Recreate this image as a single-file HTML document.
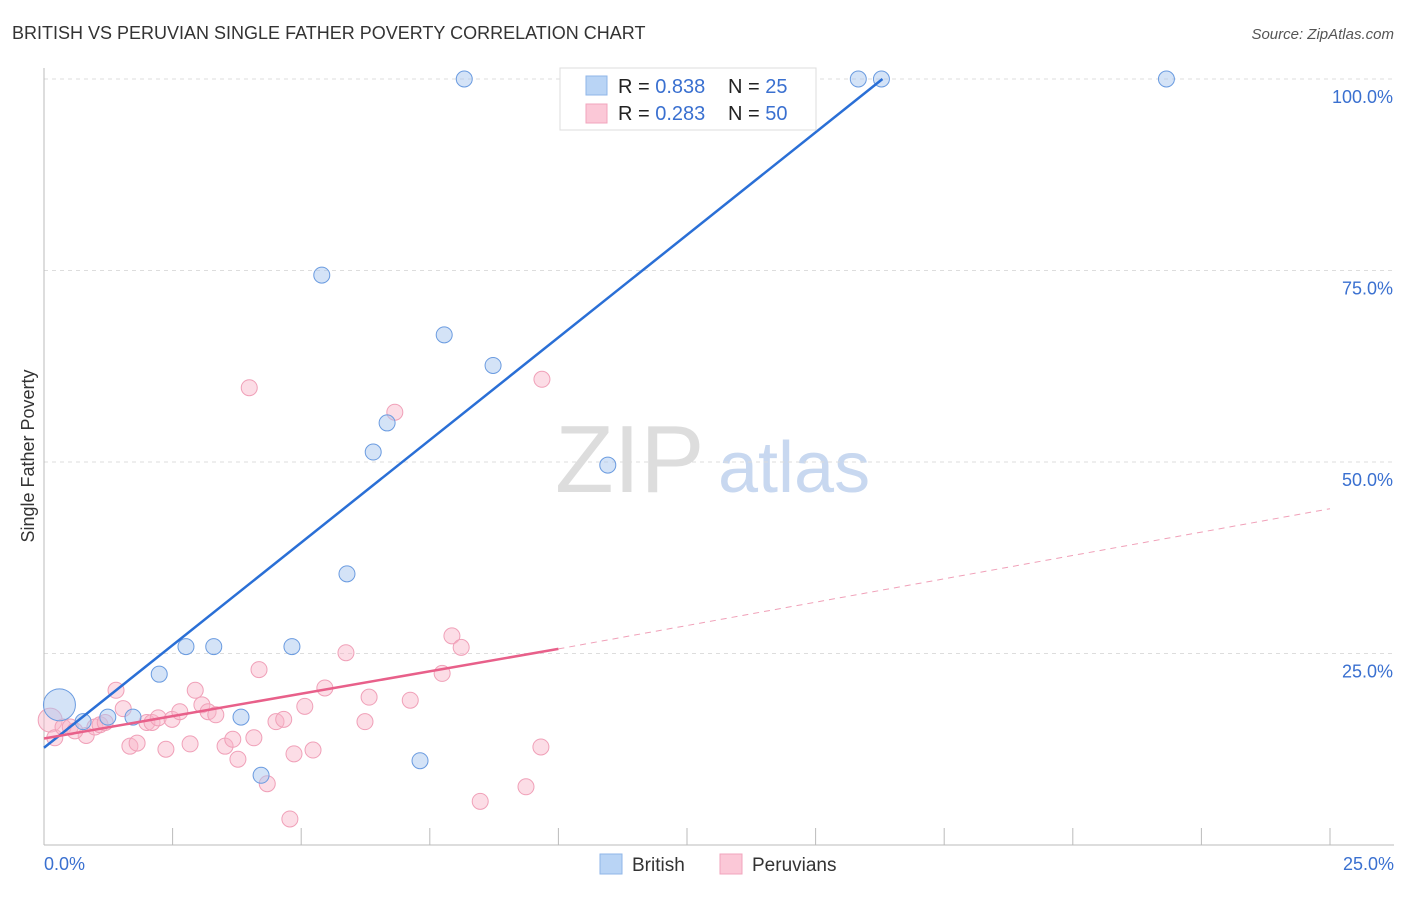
<!DOCTYPE html>
<html><head><meta charset="utf-8"><style>
body{margin:0;background:#fff;font-family:"Liberation Sans",sans-serif}
svg text{font-family:"Liberation Sans",sans-serif}
</style></head><body>
<svg id="c" width="1406" height="892">
<text x="12" y="39" font-size="18" fill="#333">BRITISH VS PERUVIAN SINGLE FATHER POVERTY CORRELATION CHART</text>
<text x="1394" y="39" font-size="15" fill="#555" font-style="italic" text-anchor="end">Source: ZipAtlas.com</text>
<text x="34" y="456" font-size="18" fill="#333" text-anchor="middle" transform="rotate(-90 34 456)">Single Father Poverty</text>
<text x="555" y="492" font-size="96" fill="#ddd" font-family="Liberation Serif">ZIP</text>
<text x="718" y="492" font-size="72" fill="#c8d8f0">atlas</text>
<g id="grid"></g><g id="pts"></g><g id="lines"></g>
<g>
<rect x="560" y="68" width="256" height="62" fill="#fff" stroke="#ddd"/>
<rect x="586" y="76" width="21" height="19" fill="#b9d4f5" stroke="#8fb6e8"/>
<rect x="586" y="104" width="21" height="19" fill="#fbc8d7" stroke="#f2a4bc"/>
<text x="618" y="93" font-size="20" fill="#222">R = <tspan fill="#3a70d0">0.838</tspan></text>
<text x="728" y="93" font-size="20" fill="#222">N = <tspan fill="#3a70d0"> 25</tspan></text>
<text x="618" y="120" font-size="20" fill="#222">R = <tspan fill="#3a70d0">0.283</tspan></text>
<text x="728" y="120" font-size="20" fill="#222">N = <tspan fill="#3a70d0">50</tspan></text>
</g>
<g>
<rect x="600" y="854" width="22" height="20" fill="#b9d4f5" stroke="#8fb6e8"/>
<text x="632" y="871" font-size="19" fill="#333">British</text>
<rect x="720" y="854" width="22" height="20" fill="#fbc8d7" stroke="#f2a4bc"/>
<text x="752" y="871" font-size="19" fill="#333">Peruvians</text>
</g>
</svg>
<script>
const yTicks=[25,50,75,100];
const yTickLabels=["25.0%","50.0%","75.0%","100.0%"];
const britishX=[0.3,0.76,1.24,1.73,2.24,2.76,3.3,3.83,4.22,4.82,5.4,5.89,6.4,6.67,7.31,7.78,8.17,8.73,10.25,10.96,13.36,14.33,15.83,16.28,21.82];
const britishY=[18.3,16.1,16.7,16.7,22.3,25.9,25.9,16.7,9.1,25.9,74.4,35.4,51.3,55.1,11.0,66.6,100,62.6,100,49.6,100,100,100,100,100];
const peruX=[0.12,0.21,0.37,0.51,0.82,0.99,1.09,1.4,1.54,1.67,1.81,2.0,2.1,2.22,2.37,2.49,2.64,2.84,2.94,3.07,3.19,3.34,3.52,3.67,3.77,3.99,4.08,4.18,4.34,4.51,4.66,4.78,4.86,5.07,5.23,5.46,5.87,6.24,6.32,6.82,7.12,7.74,7.93,8.11,8.48,9.37,9.66,9.68,1.19,0.6];
const peruY=[16.3,14.0,15.4,15.4,14.3,15.4,15.7,20.2,17.8,12.9,13.3,16.0,16.0,16.6,12.5,16.4,17.4,13.2,20.2,18.3,17.4,17.0,12.9,13.8,11.2,59.7,14.0,22.9,8.0,16.1,16.4,3.4,11.9,18.1,12.4,20.5,25.1,16.1,19.3,56.5,18.9,22.4,27.3,25.8,5.7,7.6,12.8,60.8,16.0,14.9];
const britishFit=[0,12.7,16.3,100];
const peruFit=[0,13.9,10,25.6,25,43.9];
const X=v=>44+v/25*1286, Y=v=>845-v/100*766;
const NS='http://www.w3.org/2000/svg';
function mk(t,a,p){const e=document.createElementNS(NS,t);for(const k in a)e.setAttribute(k,a[k]);p.appendChild(e);return e;}
const g=document.getElementById('grid');
yTicks.forEach((t,i)=>{
 const l=mk('line',{x1:44,x2:1394,y1:Y(t),y2:Y(t),stroke:'#ddd','stroke-dasharray':'4,4'},g);
 
 
 const tx=mk('text',{x:1393,y:Y(t)+24,'font-size':18,fill:'#3a70d0','text-anchor':'end'},g);tx.textContent=yTickLabels[i];
 
 
});
mk('line',{x1:44,x2:1394,y1:79,y2:79,stroke:'#ddd','stroke-dasharray':'4,4'},g);
mk('line',{x1:44,x2:44,y1:68,y2:845,stroke:'#bbb'},g);
mk('line',{x1:44,x2:1394,y1:845,y2:845,stroke:'#bbb'},g);
for(let i=1;i<=10;i++){mk('line',{x1:X(i*2.5),x2:X(i*2.5),y1:828,y2:845,stroke:'#bbb'},g);}
const x0=mk('text',{x:44,y:870,'font-size':18,fill:'#3a70d0'},g);x0.textContent='0.0%';


const x1=mk('text',{x:1394,y:870,'font-size':18,fill:'#3a70d0','text-anchor':'end'},g);x1.textContent='25.0%';


const p=document.getElementById('pts');
peruX.forEach((v,i)=>{const c=mk('circle',{cx:X(v),cy:Y(peruY[i]),r:i==0?12:8,fill:'rgba(248,180,200,0.45)',stroke:'#f0a0b8','stroke-width':1},p);
 
 });
britishX.forEach((v,i)=>{const c=mk('circle',{cx:X(v),cy:Y(britishY[i]),r:i==0?16:8,fill:'rgba(170,200,240,0.5)',stroke:'#6a9be0','stroke-width':1},p);
 
 });
const L=document.getElementById('lines');
const bl=mk('line',{x1:X(britishFit[0]),y1:Y(britishFit[1]),x2:X(britishFit[2]),y2:Y(britishFit[3]),stroke:'#2a6fd6','stroke-width':2.5},L);


const pl=mk('line',{x1:X(peruFit[0]),y1:Y(peruFit[1]),x2:X(peruFit[2]),y2:Y(peruFit[3]),stroke:'#e8608a','stroke-width':2.5},L);


const pd=mk('line',{x1:X(peruFit[2]),y1:Y(peruFit[3]),x2:X(peruFit[4]),y2:Y(peruFit[5]),stroke:'#f0a0b8','stroke-width':1,'stroke-dasharray':'6,5'},L);


</script>
</body></html>
